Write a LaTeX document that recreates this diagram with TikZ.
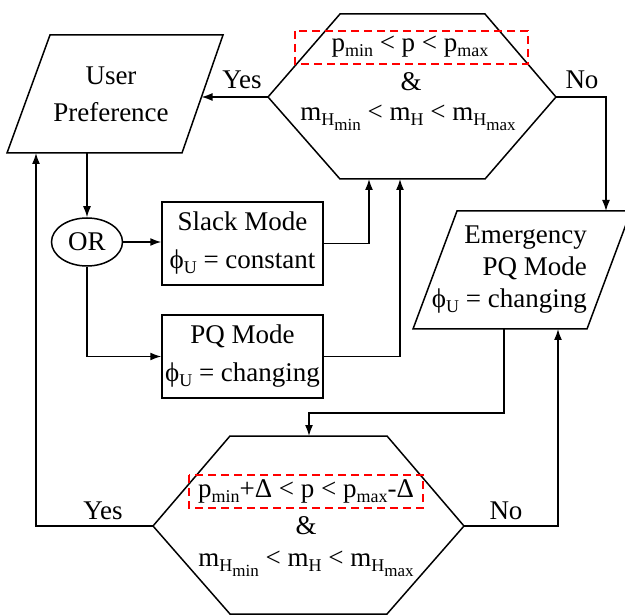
\documentclass[tikz,border=0pt]{standalone}
\usepackage{fontspec}
\setmainfont{Liberation Serif}
\usetikzlibrary{arrows.meta,shapes.geometric}
\newcommand{\sub}[1]{\raisebox{-5pt}{\fontsize{18}{18}\selectfont #1}}
\newcommand{\subsub}[2]{\raisebox{-5pt}{\fontsize{18}{18}\selectfont #1\raisebox{-5pt}{\fontsize{17}{17}\selectfont #2}}}
\begin{document}
\begin{tikzpicture}[x=1pt,y=-1pt,
  ln/.style={line width=1.5pt},
  arr/.style={line width=1.5pt,-{Latex[length=11pt,width=8pt]}},
  txt/.style={font=\fontsize{27}{32}\selectfont, inner sep=0pt},
  modebox/.style={draw, line width=1.5pt, minimum width=161pt, minimum height=83pt, inner sep=0pt, align=center, font=\fontsize{27}{38}\selectfont},
  redbox/.style={draw=red, dash pattern=on 8pt off 5pt, line width=2pt}]
\useasboundingbox (0,0) rectangle (625,615);

% top hexagon
\coordinate (h1l) at (268,97);
\coordinate (h1r) at (556,97);
\coordinate (h1a) at (369,179);
\coordinate (h1b) at (400,179);
\draw[ln] (h1l) -- (340,14) -- (485,14) -- (h1r) -- (485,179) -- (340,179) -- cycle;
\draw[redbox] (295,31) rectangle (528,64);
\node[txt] (t1) at (410,47) {p\sub{min} < p < p\sub{max}};
\node[txt] (t2) at (411,82) {\&};
\node[txt] (t3) at (408,118) {m\subsub{H}{min} < m\sub{H} < m\subsub{H}{max}};

% user preference
\coordinate (upr) at (201.5,97);
\coordinate (upb) at (87,153);
\coordinate (upl) at (36,153);
\draw[ln] (50,35) -- (223,35) -- (182,153) -- (7,153) -- cycle;
\node[txt, align=center] (up) at (111,94) {User\\[5pt]Preference};

% OR and modes
\node[draw, ellipse, ln, minimum width=71pt, minimum height=48pt, inner sep=0pt, font=\fontsize{27}{32}\selectfont] (or) at (87,242) {OR};
\node[modebox] (slack) at (242.5,243.5) {Slack Mode\\ϕ\sub{U} = constant};
\node[modebox] (pq) at (242.5,356.5) {PQ Mode\\ϕ\sub{U} = changing};

% emergency
\coordinate (emt) at (606,211);
\coordinate (emb) at (504,329);
\coordinate (emi) at (558,329);
\begin{scope}
\clip (0,0) rectangle (625,615);
\draw[ln] (457,211) -- (631,211) -- (587,329) -- (413,329) -- cycle;
\end{scope}
\node[txt, align=right, anchor=east] (em) at (587,270) {Emergency\\PQ Mode\\ϕ\sub{U} = changing};

% bottom hexagon
\coordinate (h2l) at (153,526);
\coordinate (h2r) at (464,526);
\coordinate (h2t) at (309,436);
\draw[ln] (h2l) -- (230,436) -- (387,436) -- (h2r) -- (387,614) -- (230,614) -- cycle;
\draw[redbox] (189,475) rectangle (423,508);
\node[txt] (b1) at (306,491) {p\sub{min}+Δ < p < p\sub{max}-Δ};
\node[txt] (b2) at (306,526) {\&};
\node[txt] (b3) at (306,564) {m\subsub{H}{min} < m\sub{H} < m\subsub{H}{max}};

% connectors
\draw[arr] (h1l) -- (upr);
\node[txt] (yes1) at (242,80) {Yes};
\draw[arr] (h1r) -| (emt);
\node[txt] (no1) at (582,80) {No};
\draw[arr] (upb) -- (or.north);
\draw[arr] (or.east) -- (or.east -| slack.west);
\draw[arr] (or.south) |- (pq.west);
\draw[arr] (slack.east) -| (h1a);
\draw[arr] (pq.east) -| (h1b);
\draw[arr] (emb) |- (309,413) -- (h2t);
\draw[arr] (h2r) -| (emi);
\node[txt] (no2) at (506,511) {No};
\draw[arr] (h2l) -| (upl);
\node[txt] (yes2) at (103,511) {Yes};
\end{tikzpicture}
\end{document}
